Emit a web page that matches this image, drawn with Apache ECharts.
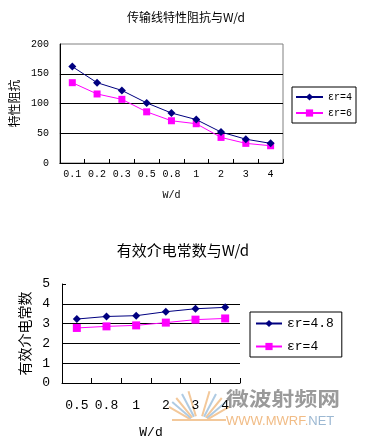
<!DOCTYPE html>
<html>
<head>
<meta charset="utf-8">
<script src="https://cdn.jsdelivr.net/npm/echarts@6/dist/echarts.min.js"></script>
<style>
html,body{margin:0;padding:0;background:#fff;}
#c{width:365px;height:445px;}
</style>
</head>
<body>
<div id="c"></div>
<script>
// Chart 1: characteristic impedance vs W/d
const cats1 = ['0.1','0.2','0.3','0.5','0.8','1','2','3','4'];
const imp_er4 = [162, 135, 122, 101, 84, 73, 52, 40, 33];
const imp_er6 = [135, 116, 107, 86, 71, 66, 43, 33, 29];
const yTicks1 = { min: 0, max: 200, interval: 50 };

// Chart 2: effective dielectric constant vs W/d
const cats2 = ['0.5','0.8','1','2','3','4'];
const eff_er48 = [3.23, 3.36, 3.40, 3.60, 3.75, 3.82];
const eff_er4 = [2.78, 2.86, 2.91, 3.05, 3.20, 3.26];
const yTicks2 = { min: 0, max: 5, interval: 1 };

const names1 = ['εr=4', 'εr=6'];
const names2 = ['εr=4.8', 'εr=4 '];

const MONO = '"Liberation Mono","DejaVu Sans Mono",monospace';
const CJK = '"Noto Sans CJK SC","Noto Sans",sans-serif';
const NAVY = '#000080', MAG = '#FF00FF';

const chart = echarts.init(document.getElementById('c'), null, {renderer: 'canvas'});

const rays = [];
const rayDefs = [
  [-62, '#F3C89A'], [-52, '#AFCBE3'], [-42, '#F3C89A'], [-30, '#AFCBE3'],
  [-18, '#F3C89A'], [ 18, '#F3C89A'], [ 30, '#AFCBE3'], [ 42, '#F3C89A'], [52, '#AFCBE3'], [62, '#F3C89A']
];
rayDefs.forEach(function (d) {
  const a = d[0] * Math.PI / 180;
  const cx = 199, cy = 422;
  rays.push({
    type: 'line', silent: true, z: 0,
    shape: { x1: cx + Math.sin(a) * 10, y1: cy - Math.cos(a) * 10 * 0.6,
             x2: cx + Math.sin(a) * 34, y2: cy - Math.cos(a) * 34 * 0.95 },
    style: { stroke: d[1], lineWidth: 2 }
  });
});
rays.push({ type: 'line', silent: true, z: 0, shape: {x1: 172, y1: 420, x2: 226, y2: 420}, style: {stroke: '#F3C89A', lineWidth: 2}});

const option = {
  backgroundColor: '#fff',
  animation: false,
  title: [
    { text: '传输线特性阻抗与W/d', left: 181, top: 6, textAlign: 'center',
      textStyle: { fontFamily: CJK, fontSize: 12, fontWeight: 'normal', color: '#000' } },
    { text: '有效介电常数与W/d', left: 178, top: 238, textAlign: 'center',
      textStyle: { fontFamily: CJK, fontSize: 15, fontWeight: 'normal', color: '#000' } }
  ],
  grid: [
    { left: 54, top: 44, width: 229, height: 119, show: true, borderColor: '#808080', borderWidth: 1, backgroundColor: 'transparent' },
    { left: 62, top: 284, width: 178, height: 99, show: false }
  ],
  legend: [
    { data: names1, orient: 'vertical', left: 292, top: 87, width: 68,
      padding: [5, 4, 5, 3], itemGap: 6, itemWidth: 27, itemHeight: 9,
      borderColor: '#000', borderWidth: 1, backgroundColor: '#fff', selectedMode: false,
      textStyle: { fontFamily: MONO, fontSize: 10, color: '#000', lineHeight: 10 } },
    { data: names2, orient: 'vertical', left: 250, top: 312,
      padding: [5, 8, 4, 5], itemGap: 10, itemWidth: 26, itemHeight: 9,
      borderColor: '#000', borderWidth: 1, backgroundColor: '#fff', selectedMode: false,
      textStyle: { fontFamily: MONO, fontSize: 13, color: '#000', lineHeight: 13 } }
  ],
  xAxis: [
    { type: 'category', gridIndex: 0, data: cats1, boundaryGap: true,
      axisLine: { lineStyle: { color: '#000', width: 1 } },
      axisTick: { show: true, inside: true, length: 4, lineStyle: { color: '#000' } },
      axisLabel: { interval: 0, hideOverlap: false, margin: 6, fontFamily: MONO, fontSize: 10, color: '#000' },
      name: 'W/d', nameLocation: 'middle', nameGap: 27,
      nameTextStyle: { fontFamily: MONO, fontSize: 10, color: '#000' } },
    { type: 'category', gridIndex: 1, data: cats2, boundaryGap: true,
      axisLine: { lineStyle: { color: '#000', width: 1 } },
      axisTick: { show: true, inside: true, length: 5, lineStyle: { color: '#000' } },
      axisLabel: { interval: 0, hideOverlap: false, margin: 16, fontFamily: MONO, fontSize: 13, color: '#000' },
      name: 'W/d', nameLocation: 'middle', nameGap: 43,
      nameTextStyle: { fontFamily: MONO, fontSize: 13, color: '#000' } }
  ],
  yAxis: [
    { type: 'value', gridIndex: 0, min: yTicks1.min, max: yTicks1.max, interval: yTicks1.interval,
      axisLine: { show: true, lineStyle: { color: '#000', width: 1 } },
      axisTick: { show: false },
      axisLabel: { margin: 11, fontFamily: MONO, fontSize: 10, color: '#000' },
      splitLine: { show: true, showMaxLine: false, lineStyle: { color: '#000', width: 1 } },
      name: '特性阻抗', nameLocation: 'middle', nameGap: 32, nameRotate: 90,
      nameTextStyle: { fontFamily: CJK, fontSize: 12, color: '#000' } },
    { type: 'value', gridIndex: 1, min: yTicks2.min, max: yTicks2.max, interval: yTicks2.interval,
      axisLine: { show: true, lineStyle: { color: '#000', width: 1 } },
      axisTick: { show: true, inside: true, length: 4, lineStyle: { color: '#000' } },
      axisLabel: { margin: 12, fontFamily: MONO, fontSize: 13, color: '#000' },
      splitLine: { show: true, showMaxLine: false, lineStyle: { color: '#000', width: 1 } },
      name: '有效介电常数', nameLocation: 'middle', nameGap: 30, nameRotate: 90,
      nameTextStyle: { fontFamily: CJK, fontSize: 14, color: '#000' } }
  ],
  series: [
    { name: names1[0], type: 'line', xAxisIndex: 0, yAxisIndex: 0, data: imp_er4,
      symbol: 'diamond', symbolSize: 8, showAllSymbol: true, z: 3,
      lineStyle: { color: NAVY, width: 1 }, itemStyle: { color: NAVY } },
    { name: names1[1], type: 'line', xAxisIndex: 0, yAxisIndex: 0, data: imp_er6,
      symbol: 'rect', symbolSize: 7, showAllSymbol: true, z: 2,
      lineStyle: { color: MAG, width: 1 }, itemStyle: { color: MAG } },
    { name: names2[0], type: 'line', xAxisIndex: 1, yAxisIndex: 1, data: eff_er48,
      symbol: 'diamond', symbolSize: 8, showAllSymbol: true, z: 3,
      lineStyle: { color: NAVY, width: 1 }, itemStyle: { color: NAVY } },
    { name: names2[1], type: 'line', xAxisIndex: 1, yAxisIndex: 1, data: eff_er4,
      symbol: 'rect', symbolSize: 8, showAllSymbol: true, z: 2,
      lineStyle: { color: MAG, width: 1 }, itemStyle: { color: MAG } }
  ],
  graphic: rays.concat([
    { type: 'text', silent: true, z: 0, left: 226, top: 389, scaleX: 1.2,
      style: { text: '微波射频网', fontFamily: CJK, fontSize: 19, fontWeight: 'bold', fill: '#9A9A9A' } },
    { type: 'text', silent: true, z: 0, left: 226, top: 415,
      style: { text: '{a|WWW.MWRF.}{b|NET}', fontFamily: '"Liberation Sans",Arial,sans-serif', fontSize: 13,
        rich: { a: { fill: '#F1BC86', fontSize: 13, fontFamily: '"Liberation Sans",Arial,sans-serif' },
                b: { fill: '#9CB8D2', fontSize: 13, fontFamily: '"Liberation Sans",Arial,sans-serif' } } } }
  ])
};
chart.setOption(option);
</script>
</body>
</html>
